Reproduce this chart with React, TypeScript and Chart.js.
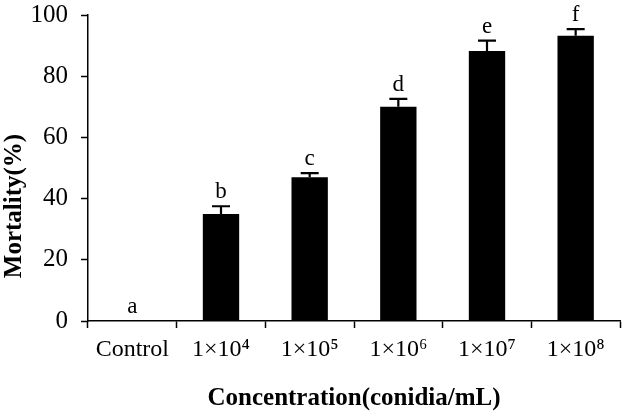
import React, { useEffect, useRef } from 'react'
import { Chart, registerables } from 'chart.js'

Chart.register(...registerables)

const categories = ['Control', '1×10⁴', '1×10⁵', '1×10⁶', '1×10⁷', '1×10⁸']
const mortality = [0, 35, 47, 70, 88.2, 93.2]
const errorUpper = [0, 2.5, 1.3, 2.6, 3.4, 2.2]
const letters = ['a', 'b', 'c', 'd', 'e', 'f']
const yTicks = [0, 20, 40, 60, 80, 100]

const FONT = "'Liberation Serif', 'Times New Roman', serif"

// error bars, significance letters and the y title
const annotations = {
	id: 'annotations',
	afterDatasetsDraw(chart: any) {
		const { ctx, scales } = chart
		const x = scales.x
		const y = scales.y
		ctx.save()
		ctx.strokeStyle = '#000'
		ctx.fillStyle = '#000'
		ctx.lineWidth = 2.2
		ctx.font = `23px ${FONT}`
		ctx.textAlign = 'center'
		ctx.textBaseline = 'alphabetic'
		mortality.forEach((v, i) => {
			const cx = x.getPixelForValue(i)
			const yb = y.getPixelForValue(v)
			const yt = y.getPixelForValue(v + errorUpper[i])
			if (errorUpper[i] > 0) {
				ctx.beginPath()
				ctx.moveTo(cx, yb)
				ctx.lineTo(cx, yt)
				ctx.moveTo(cx - 9, yt)
				ctx.lineTo(cx + 9, yt)
				ctx.stroke()
			}
			ctx.fillText(letters[i], cx, yt - 8)
		})
		ctx.restore()

		ctx.save()
		ctx.fillStyle = '#000'
		ctx.font = `bold 25px ${FONT}`
		ctx.textAlign = 'center'
		ctx.textBaseline = 'middle'
		ctx.translate(15, chart.height / 2)
		ctx.rotate(-Math.PI / 2)
		ctx.fillText('Mortality(%)', 0, 0)
		ctx.restore()
	},
}

const App: React.FC = () => {
	const chartRef = useRef<HTMLCanvasElement>(null)

	useEffect(() => {
		if (!chartRef.current) return
		const context = chartRef.current.getContext('2d')
		if (!context) return

		const chart = new Chart(context, {
			type: 'bar',
			data: {
				labels: categories,
				datasets: [
					{
						label: 'Mortality',
						data: mortality,
						backgroundColor: '#000',
						barPercentage: 0.41,
						categoryPercentage: 1,
					},
				],
			},
			options: {
				animation: false,
				responsive: true,
				maintainAspectRatio: false,
				layout: { padding: { top: 15, right: 3, left: 0, bottom: 0 } },
				plugins: {
					legend: { display: false },
					tooltip: { enabled: false },
				},
				scales: {
					x: {
						offset: true,
						grid: {
							display: true,
							drawOnChartArea: false,
							drawTicks: true,
							tickLength: 7,
							tickWidth: 1.5,
							color: '#000',
							offset: true,
						},
						border: { display: true, color: '#000', width: 1.5 },
						ticks: {
							color: '#000',
							padding: 7,
							maxRotation: 0,
							font: { family: FONT, size: 24 },
						},
						title: {
							display: true,
							text: 'Concentration(conidia/mL)',
							color: '#000',
							padding: { top: 0, bottom: -2 },
							font: { family: FONT, size: 25, weight: 'bold' },
						},
						afterFit: (scale: any) => {
							scale.height = 91
							scale.paddingLeft = 0
							scale.paddingRight = 0
						},
					},
					y: {
						min: 0,
						max: 100,
						afterBuildTicks: (scale: any) => {
							scale.ticks = yTicks.map((v) => ({ value: v }))
						},
						grid: {
							display: true,
							drawOnChartArea: false,
							drawTicks: true,
							tickLength: 7,
							tickWidth: 1.5,
							color: '#000',
						},
						border: { display: true, color: '#000', width: 1.5 },
						ticks: {
							color: '#000',
							padding: 13,
							font: { family: FONT, size: 25 },
						},
						afterFit: (scale: any) => {
							scale.width = 88
							scale.paddingTop = 0
							scale.paddingBottom = 0
						},
					},
				},
			},
			plugins: [annotations],
		})

		return () => {
			chart.destroy()
		}
	}, [])

	return (
		<div style={{ position: 'absolute', left: 0, top: 0, width: 623, height: 412, background: '#fff' }}>
			<canvas ref={chartRef} />
		</div>
	)
}

export default App
